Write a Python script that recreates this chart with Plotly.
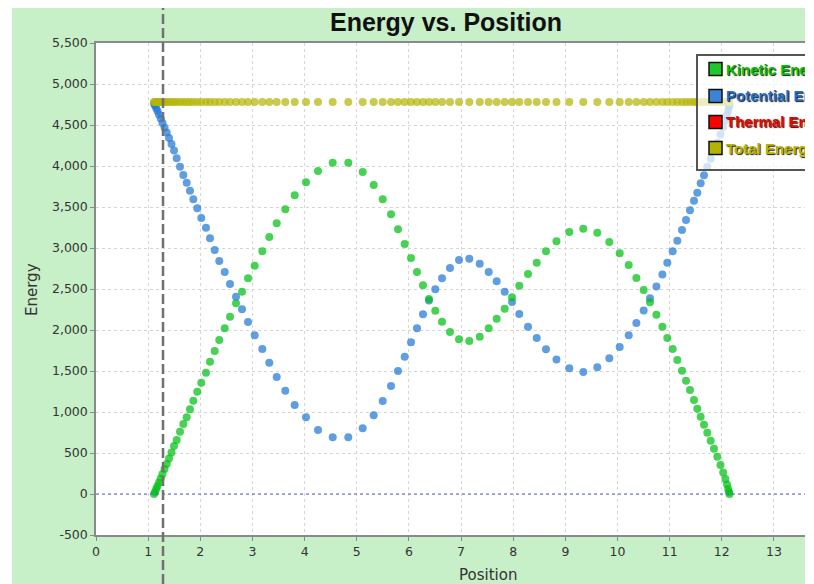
import plotly.graph_objects as go

# ---- data (position, energy in J) ----
position = [
    1.112, 1.131, 1.154, 1.179, 1.208, 1.241, 1.275, 1.314, 1.356, 1.400,
    1.448, 1.496, 1.547, 1.611, 1.674, 1.739, 1.802, 1.866, 1.942, 2.019,
    2.109, 2.186, 2.276, 2.364, 2.468, 2.570, 2.685, 2.800, 2.915, 3.043,
    3.189, 3.323, 3.465, 3.630, 3.810, 4.027, 4.257, 4.539, 4.838, 5.114,
    5.325, 5.498, 5.657, 5.791, 5.919, 6.040, 6.155, 6.270, 6.385, 6.506,
    6.635, 6.788, 6.961, 7.158, 7.358, 7.530, 7.683, 7.837, 7.977, 8.117,
    8.284, 8.451, 8.629, 8.830, 9.076, 9.344, 9.613, 9.843, 10.042, 10.215,
    10.362, 10.502, 10.623, 10.746, 10.861, 10.955, 11.058, 11.147, 11.237, 11.314,
    11.390, 11.467, 11.530, 11.595, 11.659, 11.722, 11.787, 11.850, 11.914, 11.975,
    12.027, 12.069, 12.100, 12.123, 12.138, 12.148,
]

potential = [
    4762, 4738, 4707, 4671, 4628, 4579, 4524, 4469, 4408, 4341,
    4268, 4189, 4094, 3991, 3890, 3796, 3699, 3594, 3484, 3366,
    3248, 3118, 2976, 2841, 2707, 2561, 2406, 2252, 2098, 1935,
    1768, 1601, 1427, 1260, 1085, 935, 780, 691, 691, 801,
    960, 1134, 1317, 1500, 1674, 1850, 2021, 2191, 2360, 2496,
    2630, 2756, 2854, 2869, 2809, 2707, 2594, 2467, 2341, 2195,
    2040, 1902, 1765, 1640, 1533, 1488, 1545, 1655, 1793, 1937,
    2085, 2239, 2388, 2532, 2678, 2821, 2960, 3089, 3219, 3341,
    3459, 3577, 3674, 3789, 3887, 3991, 4089, 4187, 4284, 4384,
    4476, 4555, 4622, 4677, 4719, 4756,
]

kinetic = [
    0, 24, 61, 98, 140, 189, 244, 305, 366, 433,
    506, 585, 659, 760, 854, 935, 1033, 1138, 1248, 1357,
    1479, 1613, 1744, 1878, 2021, 2162, 2326, 2467, 2630, 2784,
    2961, 3134, 3301, 3472, 3643, 3801, 3939, 4040, 4040, 3927,
    3768, 3594, 3411, 3228, 3049, 2878, 2707, 2545, 2378, 2236,
    2101, 1976, 1887, 1866, 1918, 2021, 2138, 2260, 2399, 2540,
    2683, 2821, 2960, 3083, 3195, 3235, 3187, 3073, 2935, 2793,
    2634, 2488, 2337, 2187, 2040, 1902, 1768, 1634, 1504, 1382,
    1268, 1146, 1040, 943, 845, 748, 650, 552, 455, 354,
    262, 183, 116, 61, 24, 0,
]

total = [
    4780, 4780, 4780, 4780, 4780, 4780, 4780, 4780, 4780, 4780,
    4780, 4780, 4780, 4780, 4780, 4780, 4780, 4780, 4780, 4780,
    4780, 4780, 4780, 4780, 4780, 4780, 4780, 4780, 4780, 4780,
    4780, 4780, 4780, 4780, 4780, 4780, 4780, 4780, 4780, 4780,
    4780, 4780, 4780, 4780, 4780, 4780, 4780, 4780, 4780, 4780,
    4780, 4780, 4780, 4780, 4780, 4780, 4780, 4780, 4780, 4780,
    4780, 4780, 4780, 4780, 4780, 4780, 4780, 4780, 4780, 4780,
    4780, 4780, 4780, 4780, 4780, 4780, 4780, 4780, 4780, 4780,
    4780, 4780, 4780, 4780, 4780, 4780, 4780, 4780, 4780, 4780,
    4780, 4780, 4780, 4780, 4780, 4780,
]

legend_names = ["Kinetic Energy", "Potential Energy", "Thermal Energy", "Total Energy"]
legend_fill = ["#1fc72a", "#3c82d6", "#ff0000", "#b4b400"]
legend_text = ["#00c400", "#1f6fd0", "#ee0000", "#b4b400"]

track_position = 1.285   # current skater position (dashed marker line)

x_ticks = list(range(0, 14))
y_ticks = list(range(-500, 5501, 500))
y_ticklabels = [f"{v:,}" for v in y_ticks]

# ---- figure ----
fig = go.Figure()

fig.add_trace(go.Scatter(
    x=position, y=potential, mode="markers", showlegend=False, name="Potential Energy",
    marker=dict(size=8, color="rgba(35,121,215,0.72)", line=dict(width=0)),
))
fig.add_trace(go.Scatter(
    x=position, y=kinetic, mode="markers", showlegend=False, name="Kinetic Energy",
    marker=dict(size=8, color="rgba(0,192,20,0.72)", line=dict(width=0)),
))
fig.add_trace(go.Scatter(
    x=position, y=total, mode="markers", showlegend=False, name="Total Energy",
    marker=dict(size=8, color="rgba(181,181,8,0.72)", line=dict(width=0)),
))

W, H = 797, 576
ml, mt, mb, mr = 88, 35, 49, 0
pw = W - ml - mr
ph = H - mt - mb


def px_x(fx):
    return (fx - ml) / pw


def px_y(fy):
    return (H - mb - fy) / ph


shapes = [
    # zero line (dotted blue)
    dict(type="line", xref="paper", yref="y", x0=0, x1=1, y0=0, y1=0,
         line=dict(color="#5a5aff", width=1, dash="dot"), layer="above"),
    # dashed vertical marker through whole chart
    dict(type="line", xref="x", yref="paper", x0=track_position, x1=track_position,
         y0=px_y(H), y1=px_y(0),
         line=dict(color="#707070", width=2.5, dash="10px,4px"), layer="above"),
    # white strip at far left
    dict(type="rect", xref="paper", yref="paper", x0=px_x(-2), x1=px_x(4),
         y0=px_y(H + 5), y1=px_y(-5), fillcolor="white", line=dict(width=0)),
    # legend box
    dict(type="rect", xref="paper", yref="paper", x0=px_x(689), x1=px_x(840),
         y0=px_y(162), y1=px_y(47), fillcolor="rgba(255,255,255,0.72)",
         line=dict(color="#555", width=2), layer="above"),
]

annotations = [
    dict(text="Energy", xref="paper", yref="paper", x=px_x(24), y=px_y(282),
         textangle=-90, showarrow=False, xanchor="center", yanchor="middle",
         font=dict(family="DejaVu Sans", size=15, color="#333")),
    dict(text="Position", xref="paper", yref="paper", x=px_x(480), y=px_y(567),
         showarrow=False, xanchor="center", yanchor="middle",
         font=dict(family="DejaVu Sans", size=15, color="#333")),
    dict(text="<b>Energy vs. Position</b>", xref="paper", yref="paper",
         x=px_x(438), y=px_y(14), xanchor="center", yanchor="middle",
         showarrow=False,
         font=dict(family="Liberation Sans", size=25, color="#111")),
]

row_y = [61, 88, 114, 140]
for nm, fc, tc, ry in zip(legend_names, legend_fill, legend_text, row_y):
    shapes.append(dict(type="rect", xref="paper", yref="paper",
                       x0=px_x(701), x1=px_x(714), y0=px_y(ry + 6.5), y1=px_y(ry - 6.5),
                       fillcolor=fc, line=dict(color="#111", width=1.5), layer="above"))
    annotations.append(dict(text=f"<b>{nm}</b>", xref="paper", yref="paper",
                            x=px_x(716), y=px_y(ry), xanchor="left", yanchor="middle",
                            showarrow=False,
                            font=dict(family="Liberation Sans", size=15, color=tc,
                                      shadow="1px 1px 1px rgba(0,0,0,0.9)")))

axis_font = dict(family="DejaVu Sans", size=12.5, color="#333")

fig.update_layout(
    width=W, height=H,
    margin=dict(l=ml, r=mr, t=mt, b=mb, autoexpand=False),
    paper_bgcolor="#c7f0c8",
    plot_bgcolor="white",
    showlegend=False,
    xaxis=dict(range=[0, (W - ml) / 52.15], tickvals=x_ticks,
               showgrid=True, gridcolor="#d6d6d6", griddash="3px,3px", gridwidth=1,
               zeroline=False, showline=True, linecolor="#8a8a8a", linewidth=1.5,
               mirror=True, ticks="outside", ticklen=4, tickcolor="#8a8a8a",
               tickfont=axis_font),
    yaxis=dict(range=[-500, 5500], tickvals=y_ticks, ticktext=y_ticklabels,
               showgrid=True, gridcolor="#d6d6d6", griddash="3px,3px", gridwidth=1,
               zeroline=False, showline=True, linecolor="#8a8a8a", linewidth=1.5,
               ticks="outside", ticklen=4, tickcolor="#8a8a8a",
               tickfont=axis_font),
    shapes=shapes,
    annotations=annotations,
)

fig.write_html("out.html")
